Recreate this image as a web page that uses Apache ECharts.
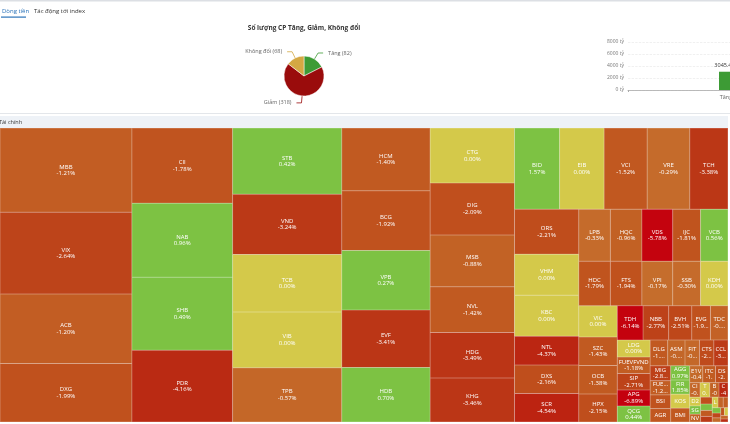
<!DOCTYPE html>
<html><head><meta charset="utf-8">
<script src="https://cdn.jsdelivr.net/npm/echarts@6/dist/echarts.min.js"></script>
<style>html,body{margin:0;padding:0;background:#fff;overflow:hidden;width:730px;height:424px}#c{width:1100px;height:424px}</style>
</head><body><div id="c"></div><script>
// ---- data ----
const tabLabels = ['Dòng tiền', 'Tác động tới index'];
const pieTitle = 'Số lượng CP Tăng, Giảm, Không đổi';
const pieCategories = ['Tăng', 'Giảm', 'Không đổi'];
const pieValues = [82, 318, 68];
const barCategories = ['Tăng'];
const barValues = [3045.4];
const barUnit = 'tỷ';
const sectorName = 'Tài chính';
const tickers = ['MBB','VIX','ACB','DXG','CII','NAB','SHB','PDR','STB','VND','TCB','VIB','TPB','HCM','BCG','VPB','EVF','HDB','CTG','DIG','MSB','NVL','HDG','KHG',
 'BID','EIB','VCI','VRE','TCH','ORS','VHM','KBC','NTL','DXS','SCR','LPB','HQC','VDS','IJC','VCB','HDC','FTS','VPI','SSB','KDH','VIC','SZC','OCB','HPX',
 'TDH','NBB','BVH','EVG','TDC','LDG','FUEVFVND','SIP','APG','QCG','DLG','ASM','FIT','CTS','CCL','MIG','FUESSVFL','BSI','AGR','AGG','FIR','KOS','BMI',
 'E1VFVN30','ITC','DSE','CIG','TDG','BCM','CRE','D2D','SGR','NVT','TIX','PTL','HAR','VPH','LEC','DRH','CCI','TDP','SJS','PDN','HTN','VRC','SCD','TN1','NLG'];
const changes = [-1.21,-2.64,-1.20,-1.99,-1.78,0.96,0.49,-4.16,0.42,-3.24,0.00,0.00,-0.57,-1.40,-1.92,0.27,-3.41,0.70,0.00,-2.09,-0.88,-1.42,-3.49,-3.46,
 1.57,0.00,-1.52,-0.29,-3.38,-2.21,0.00,0.00,-4.37,-2.16,-4.54,-0.33,-0.96,-5.78,-1.81,0.56,-1.79,-1.94,-0.17,-0.30,0.00,0.00,-1.43,-1.38,-2.15,
 -6.14,-2.77,-2.51,-1.92,-0.85,0.00,-1.18,-2.71,-6.89,0.44,-1.45,-0.65,-0.50,-2.30,-3.10,-2.83,-1.20,-1.90,-1.60,0.97,1.85,0.00,-1.50,
 -0.40,-1.30,-2.20,-0.60,0.00,-0.90,-4.20,0.00,1.20,-0.90,-2.10,0.50,-1.50,-3.20,0.00,-0.70,-1.10,0.80,-2.50,-0.40,-1.80,0.00,-0.60,-4.00,-1.00];
const tradeValues = [11063,10760,9127,7691,7545,7444,7314,7213,7200,6560,6250,6060,5911,5536,5260,5248,5060,4803,4637,4362,4354,3844,3827,3710,
 3650,3610,3490,3450,3100,2880,2624,2620,1840,1830,1820,1640,1632,1600,1445,1424,1398,1392,1364,1232,1214,1200,1100,1090,1080,
 880,875,789,640,600,555,545,535,530,520,450,445,372,368,365,305,290,280,275,270,268,265,262,
 220,215,210,150,140,135,130,95,90,85,80,75,70,65,60,55,50,45,40,35,30,28,25,22];

// ---- colours ----
const negStops = [[0,[198,112,46]],[-1,[194,96,36]],[-2,[192,81,29]],[-3,[188,61,24]],[-4,[185,45,19]],[-5,[190,26,16]],[-5.6,[196,4,14]],[-7,[196,0,14]]];
function rgb(a){return 'rgb('+a.map(v=>Math.round(v)).join(',')+')';}
function colorFor(p){
  if (p === 0) return [212,201,74];
  if (p > 0) return [125,194,67];
  for (let i=0;i<negStops.length-1;i++){
    const [v0,c0]=negStops[i],[v1,c1]=negStops[i+1];
    if (p<=v0 && p>=v1){const t=(v0-p)/(v0-v1);return c0.map((c,k)=>c+(c1[k]-c)*t);}
  }
  return negStops[negStops.length-1][1];
}
function lighten(c,t){return c.map(v=>v+(255-v)*t);}

const leaves = tickers.map((t,i)=>{
  const c = colorFor(changes[i]);
  return {name:t, value:tradeValues[i], pct:changes[i],
    itemStyle:{color:rgb(c), borderColor:rgb(lighten(c,0.3)), borderWidth:0.5}};
});

const FONT = 'Open Sans, sans-serif';
const chart = echarts.init(document.getElementById('c'), null, {renderer:'canvas'});
chart.setOption({
  animation:false,
  graphic:[
    {type:'rect', shape:{x:0,y:0,width:730,height:1.5}, style:{fill:'#dcdfe4'}, silent:true},
    {type:'text', x:2, y:11, style:{text:tabLabels[0], fill:'#2a72b8', font:'6px '+FONT, verticalAlign:'middle'}},
    {type:'rect', shape:{x:1,y:16.5,width:25,height:1.2}, style:{fill:'#2a72b8'}},
    {type:'text', x:34, y:11, style:{text:tabLabels[1], fill:'#333', font:'6px '+FONT, verticalAlign:'middle'}},
    {type:'text', x:304, y:28, style:{text:pieTitle, fill:'#333', font:'bold 6.5px '+FONT, align:'center', verticalAlign:'middle'}},
    {type:'rect', shape:{x:0,y:113,width:730,height:1}, style:{fill:'#e3e6ea'}, silent:true}
  ],
  grid:{left:628, top:42, width:196, height:48},
  xAxis:{type:'category', data:barCategories, axisLine:{lineStyle:{color:'#aaa', width:0.8}}, axisTick:{show:true, length:2, lineStyle:{color:'#aaa'}},
    axisLabel:{fontSize:5.5, color:'#666', margin:4, fontFamily:FONT}},
  yAxis:{type:'value', min:0, max:8000, interval:2000,
    axisLabel:{formatter:v=>v+' '+barUnit, fontSize:5, color:'#777', margin:4, fontFamily:FONT},
    splitLine:{lineStyle:{color:'#e6e6e6', type:'dashed', width:0.6}}},
  series:[
    {type:'pie', center:[304,76], radius:20, startAngle:90, clockwise:true,
      data:pieCategories.map((n,i)=>({name:n, value:pieValues[i], itemStyle:{color:['#3d9b35','#9a0c0c','#d4a843'][i]}})),
      label:{formatter:'{b} ({c})', fontSize:5.5, color:'#666', fontFamily:FONT},
      labelLine:{length:7, length2:5, lineStyle:{width:0.8}},
      itemStyle:{borderColor:'#fff', borderWidth:0.5}},
    {type:'bar', data:barValues, barWidth:14, itemStyle:{color:'#3d9b35'},
      label:{show:true, position:'top', distance:3, formatter:p=>p.value+' '+barUnit, fontSize:5.5, color:'#333', fontFamily:FONT}},
    {type:'treemap', left:0, top:116, width:728, height:306, roam:false, nodeClick:false,
      breadcrumb:{show:false}, visibleMin:0, squareRatio:0.5*(1+Math.sqrt(5)),
      label:{show:true, position:'inside', align:'center', verticalAlign:'middle', padding:0, color:'#fff', fontSize:6, lineHeight:6.5, fontFamily:FONT,
        formatter:p=>(p.data && p.data.pct!==undefined) ? p.name+'\n'+p.data.pct.toFixed(2)+'%' : p.name},
      itemStyle:{borderWidth:0, gapWidth:0},
      data:[{name:sectorName, children:leaves,
        itemStyle:{color:'#eef2f7', borderWidth:0, gapWidth:0, borderColor:'#eef2f7'},
        upperLabel:{show:true, height:12, color:'#333', fontSize:5.5, fontFamily:FONT, position:[-1,'50%'], padding:0, verticalAlign:'middle'}}]
    }
  ]
});
</script></body></html>
